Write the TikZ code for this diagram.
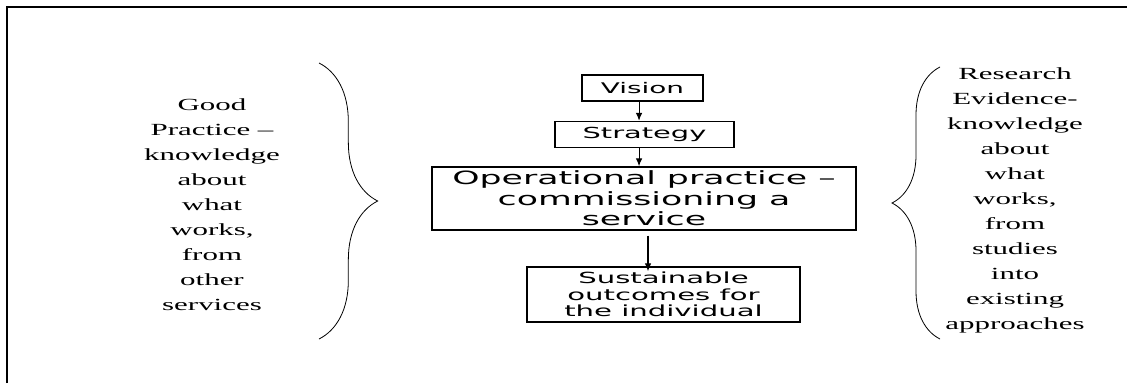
\documentclass[tikz,border=0pt]{standalone}
\usepackage{fontspec}
\setmainfont{Liberation Serif}
\newfontfamily\sidefont[FakeStretch=1.82]{Liberation Serif}
\newfontfamily\boxfont[FakeStretch=1.9]{DejaVu Sans}
\usepackage{tikz}
\usetikzlibrary{arrows.meta,positioning,calc,decorations.pathreplacing}

\begin{document}
\begin{tikzpicture}[x=0.75pt,y=0.75pt,yscale=-1,xscale=1,
  stepbox/.style={draw,line width=1.1pt,inner sep=0pt,align=center},
  arr/.style={line width=0.8pt,-{Latex[length=6pt,width=5pt]}},
  sidetext/.style={inner sep=0pt,align=center,font={\sidefont\fontsize{12.75}{18.75}\selectfont}},
  bracepath/.style={line width=0.6pt,decorate}]
\useasboundingbox (0,0) rectangle (1127,383);

%Frame (top and left only)
\draw[line width=1.7pt] (7,383) -- (7,7) -- (1127,7);

% Boxes
\node[stepbox,minimum width=90.75pt,minimum height=19.5pt,font={\boxfont\fontsize{11}{13}\selectfont}] (vision) at (642.5,88) {Vision};
\node[stepbox,minimum width=134.25pt,minimum height=19.5pt,font={\boxfont\fontsize{11.4}{13}\selectfont}] (strategy) at (644.5,134.5) {Strategy};
\node[stepbox,minimum width=318pt,minimum height=47.25pt,font={\boxfont\fontsize{13.7}{15.4}\selectfont}] (oper) at (644,198.5) {Operational practice –\\commissioning a\\service};
\node[stepbox,minimum width=204.75pt,minimum height=41.25pt,font={\boxfont\fontsize{11.5}{12.4}\selectfont}] (sust) at (663.5,294.5) {Sustainable\\outcomes for\\the individual};

% Arrows
\draw[arr] ([xshift=-2.6pt]vision.south) -- ([xshift=-2.6pt]vision.south |- strategy.north);
\draw[arr] ([xshift=-4.1pt]strategy.south) -- ([xshift=-4.1pt]strategy.south |- oper.north);
\draw[arr] ([shift={(4,5)}]oper.south) -- ([shift={(4,5)}]oper.south |- sust.north);

% Braces
\draw[bracepath,decoration={brace,amplitude=44pt}] (319,63) -- (319,339);
\draw[bracepath,decoration={brace,amplitude=36pt}] (940,339) -- (940,67);

% Text Node
\node[sidetext] (good) at (212,205) {Good\\Practice –\\knowledge\\about\\what\\works,\\from\\other\\services};
% Text Node
\node[sidetext] (research) at (1015,200) {Research\\Evidence-\\knowledge\\about\\what\\works,\\from\\studies\\into\\existing\\approaches};
\end{tikzpicture}
\end{document}
